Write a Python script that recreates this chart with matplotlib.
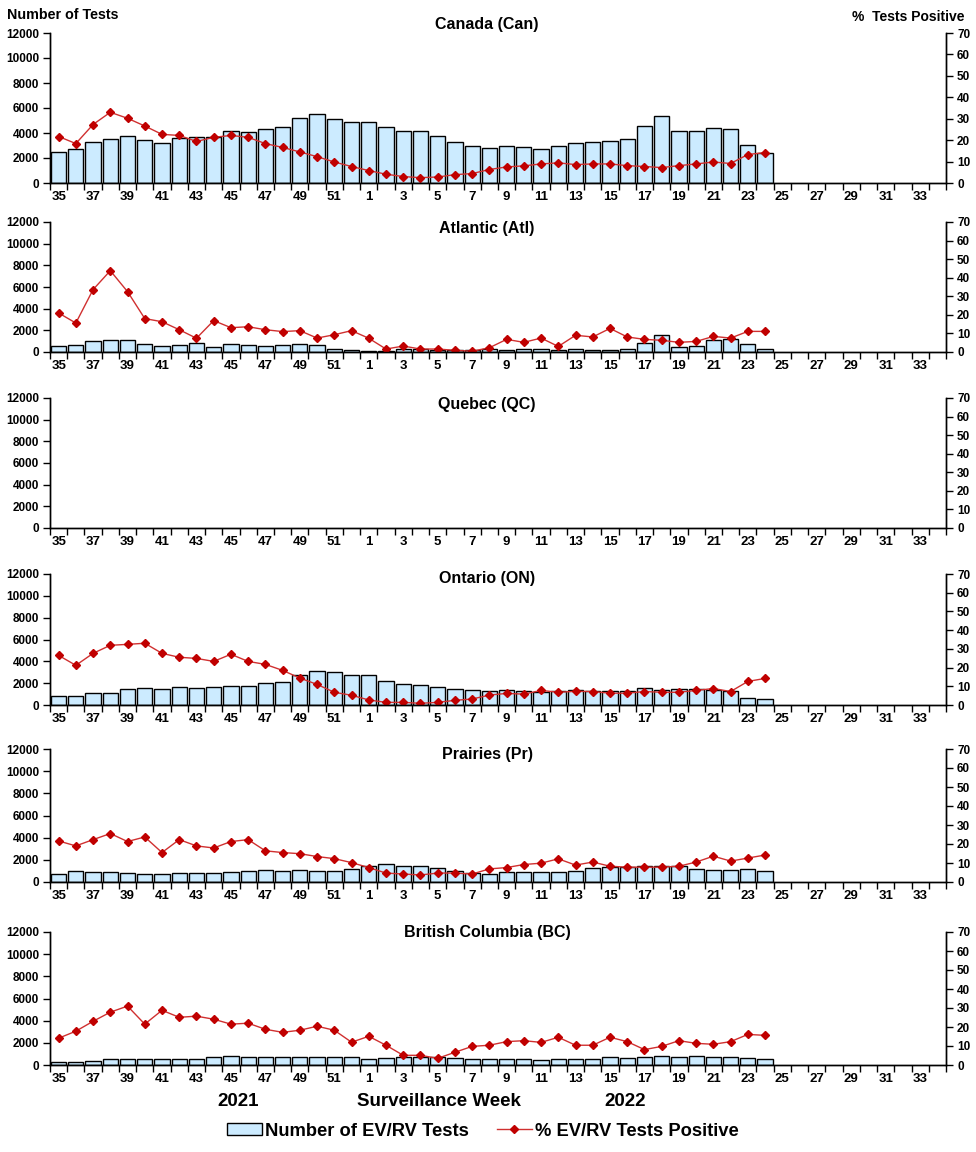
import matplotlib.pyplot as plt
import numpy as np
from matplotlib.patches import Patch
from matplotlib.lines import Line2D

plt.rcParams['font.family'] = ['Liberation Sans', 'DejaVu Sans']
plt.rcParams['font.weight'] = 'bold'

# surveillance weeks 35 (2021) .. 34 (2022)
weeks = list(range(35, 53)) + list(range(1, 35))

regions = ['Canada (Can)', 'Atlantic (Atl)', 'Quebec (QC)',
           'Ontario (ON)', 'Prairies (Pr)', 'British Columbia (BC)']

# number of tests, weeks 35..52, 1..24
can_tests = [2500, 2760, 3320, 3560, 3800, 3480, 3240, 3590, 3720, 3670, 4125, 4045, 4290, 4450,
             5170, 5490, 5090, 4850, 4850, 4450, 4200, 4200, 3800, 3320, 3000, 2840, 3000, 2920,
             2760, 3000, 3240, 3320, 3400, 3560, 4600, 5330, 4125, 4125, 4370, 4290, 3080, 2440]
atl_tests = [580, 680, 1050, 1140, 1140, 770, 585, 680, 860, 490, 770, 680, 585, 680,
             770, 680, 310, 185, 120, 120, 250, 250, 215, 185, 185, 250, 185, 245,
             245, 150, 245, 150, 150, 245, 800, 1530, 430, 520, 1070, 1165, 705, 245]
qc_tests = []
on_tests = [825, 825, 1100, 1100, 1465, 1560, 1465, 1650, 1560, 1650, 1740, 1740, 2015, 2105,
            2750, 3115, 3020, 2750, 2750, 2200, 1920, 1830, 1650, 1460, 1350, 1280, 1340, 1275,
            1185, 1275, 1340, 1275, 1275, 1275, 1550, 1370, 1430, 1430, 1370, 1275, 640, 550]
pr_tests = [755, 1025, 935, 935, 845, 755, 755, 845, 845, 845, 935, 1025, 1115, 1025,
            1115, 1025, 1025, 1205, 1475, 1655, 1460, 1460, 1270, 1000, 820, 730, 880, 880,
            880, 880, 970, 1245, 1340, 1340, 1430, 1430, 1430, 1155, 1065, 1065, 1155, 970]
bc_tests = [240, 240, 330, 510, 510, 510, 510, 510, 510, 690, 780, 690, 690, 690,
            690, 690, 690, 690, 510, 600, 690, 690, 690, 600, 510, 510, 510, 510,
            420, 510, 510, 510, 690, 600, 690, 780, 690, 780, 690, 690, 600, 510]

# percent positive
can_pos = [21.7, 18.4, 27.3, 33.0, 30.2, 26.6, 22.7, 22.2, 19.4, 21.3, 22.2, 21.3, 18.4, 16.6,
           14.5, 12.3, 9.8, 7.7, 5.8, 4.1, 3.0, 2.5, 2.8, 3.9, 4.4, 6.3, 7.5, 8.0,
           8.9, 9.4, 8.6, 8.9, 8.9, 8.1, 7.7, 7.2, 8.1, 8.9, 9.8, 9.1, 13.3, 14.2]
atl_pos = [21.0, 15.6, 33.6, 43.8, 32.5, 18.0, 16.3, 12.0, 7.4, 16.9, 13.1, 13.6, 12.0, 11.0,
           11.5, 7.5, 9.3, 11.5, 7.4, 1.6, 3.2, 1.6, 1.6, 0.9, 0.4, 2.3, 6.8, 5.2,
           7.5, 3.0, 9.0, 8.1, 12.7, 8.1, 6.8, 6.3, 5.2, 5.7, 8.4, 7.5, 11.1, 11.1]
qc_pos = []
on_pos = [26.5, 21.2, 27.6, 31.9, 32.4, 33.0, 27.6, 25.5, 24.9, 23.3, 27.1, 23.3, 21.7, 18.5,
          14.4, 11.0, 6.8, 5.2, 2.7, 1.4, 1.4, 0.9, 1.4, 2.5, 3.2, 5.3, 6.2, 5.8,
          7.8, 6.8, 7.3, 7.2, 6.3, 6.3, 7.2, 6.8, 6.8, 7.8, 8.8, 7.2, 12.6, 14.2]
pr_pos = [21.6, 19.0, 22.3, 25.5, 21.3, 23.7, 15.5, 22.3, 19.0, 17.9, 21.3, 22.3, 16.4, 15.5,
          14.9, 13.4, 12.3, 10.2, 7.6, 4.7, 4.2, 3.7, 4.7, 4.7, 4.2, 6.9, 7.6, 9.2,
          9.9, 12.2, 8.9, 10.5, 8.3, 7.8, 7.8, 7.8, 8.3, 10.5, 13.6, 11.0, 12.6, 14.2]
bc_pos = [14.1, 17.8, 23.0, 27.8, 31.0, 21.5, 28.8, 25.1, 25.7, 24.1, 21.5, 22.0, 18.8, 17.2,
          18.3, 20.4, 18.3, 12.0, 15.1, 10.4, 5.1, 5.1, 3.5, 6.7, 9.8, 10.4, 12.3, 12.8,
          11.9, 14.6, 10.4, 10.4, 14.6, 12.3, 8.1, 9.8, 12.8, 11.4, 10.9, 12.3, 16.1, 15.6]

tests = [can_tests, atl_tests, qc_tests, on_tests, pr_tests, bc_tests]
positive = [can_pos, atl_pos, qc_pos, on_pos, pr_pos, bc_pos]

W, H = 976, 1152
fig = plt.figure(figsize=(W / 100, H / 100), dpi=100)

# panel top / bottom in pixels, title y in pixels
boxes = [(33, 183), (222, 352), (398, 528), (574, 705), (749, 882), (932, 1065)]
title_y = [25, 228, 404, 579, 755, 932]
left_px, right_px = 50, 946

bar_color = '#CCEBFF'
red = '#C00000'

x_all = np.arange(len(weeks))
for k, name in enumerate(regions):
    top, bot = boxes[k]
    ax = fig.add_axes([left_px / W, 1 - bot / H, (right_px - left_px) / W, (bot - top) / H])
    ax2 = ax.twinx()
    n = len(tests[k])
    if n:
        ax.bar(x_all[:n], tests[k], width=0.88, color=bar_color, edgecolor='black', linewidth=1.0)
        ax2.plot(x_all[:n], positive[k], color='#D03030', lw=1.0, marker='D', markersize=4,
                 markerfacecolor=red, markeredgecolor=red)
    ax.set_xlim(-0.5, len(weeks) - 0.5)
    ax.set_ylim(0, 12000)
    ax.set_yticks(np.arange(0, 12001, 2000))
    ax2.set_ylim(0, 70)
    ax2.set_yticks(np.arange(0, 71, 10))
    ax.set_xticks(x_all[::2])
    ax.set_xticklabels([str(w) for w in weeks[::2]])
    ax.set_xticks(np.arange(-0.5, len(weeks), 1), minor=True)
    ax.tick_params(axis='x', which='major', length=0, pad=6, labelsize=9.5)
    ax.tick_params(axis='x', which='minor', length=5, width=1.0, direction='out')
    ax.tick_params(axis='y', length=5, width=1.0, labelsize=8.5, pad=3)
    ax2.tick_params(axis='y', length=5, width=1.0, labelsize=8.5, pad=3)
    for a in (ax, ax2):
        a.spines['top'].set_visible(False)
        for s in ('left', 'right', 'bottom'):
            a.spines[s].set_linewidth(1.0)
    fig.text(487 / W, 1 - title_y[k] / H, name, ha='center', va='center',
             fontsize=11.5, weight='bold')

fig.text(7 / W, 1 - 15 / H, 'Number of Tests', ha='left', va='center', fontsize=10.3, weight='bold')
fig.text(965 / W, 1 - 17 / H, '%  Tests Positive', ha='right', va='center', fontsize=10, weight='bold')

fig.text(238 / W, 1 - 1102 / H, '2021', ha='center', va='center', fontsize=13.5, weight='bold')
fig.text(439 / W, 1 - 1102 / H, 'Surveillance Week', ha='center', va='center', fontsize=13.5, weight='bold')
fig.text(625 / W, 1 - 1102 / H, '2022', ha='center', va='center', fontsize=13.5, weight='bold')

handles = [Patch(facecolor=bar_color, edgecolor='black', linewidth=1.0),
           Line2D([0], [0], color='#D03030', lw=1.0, marker='D', markersize=4,
                  markerfacecolor=red, markeredgecolor=red)]
fig.legend(handles, ['Number of EV/RV Tests', '% EV/RV Tests Positive'],
           loc='center', bbox_to_anchor=(483 / W, 1 - 1131 / H), ncol=2, frameon=False,
           prop={'size': 13.2, 'weight': 'bold'}, handlelength=1.9, handleheight=0.6,
           handletextpad=0.2, columnspacing=1.5, borderpad=0)

fig.savefig('out.png', dpi=100)
